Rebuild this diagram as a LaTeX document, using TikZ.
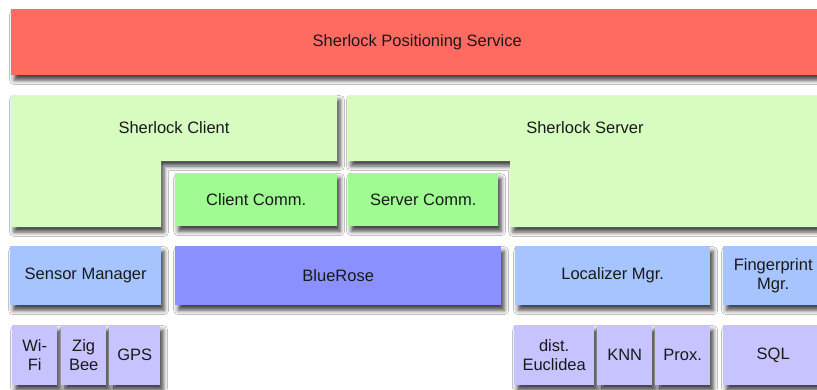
\documentclass[tikz,border=0pt]{standalone}
\usepackage{fontspec}
\setmainfont{Liberation Sans}
\usetikzlibrary{shadows.blur}
\definecolor{cred}{HTML}{FF6B61}
\definecolor{cpale}{HTML}{D6FCC0}
\definecolor{cgreen}{HTML}{A0FB92}
\definecolor{clblue}{HTML}{A6C5FE}
\definecolor{cblue}{HTML}{8A91FE}
\definecolor{clav}{HTML}{C7C3FE}
\begin{document}
\begin{tikzpicture}[x=1pt,y=-1pt,
  shad/.style={blur shadow={shadow xshift=3pt, shadow yshift=-5pt, shadow blur radius=4.5pt, shadow opacity=75}},
  lbl/.style={font=\fontsize{16.5}{19}\selectfont, align=center, text=black!90},
  box/.style={shad, lbl, draw=none, inner sep=0pt, anchor=north west, minimum height=#1},
  box/.default=59pt]
\useasboundingbox[fill=white] (0,0) rectangle (817,389);
% top service bar
\node[box=66pt, fill=cred, minimum width=812pt] (sps) at (11,9) {Sherlock Positioning Service};
% client and server L-shapes
\path[shad, fill=cpale] (11,95) -- (337,95) -- (337,161) -- (161,161) -- (161,227) -- (11,227) -- cycle;
\node[lbl] (client) at (174,128) {Sherlock Client};
\path[shad, fill=cpale] (348,95) -- (823,95) -- (823,227) -- (510,227) -- (510,161) -- (348,161) -- cycle;
\node[lbl] (server) at (585,128) {Sherlock Server};
% comm boxes
\node[box=53pt, fill=cgreen, minimum width=162pt] (ccomm) at (175,173) {Client Comm.};
\node[box=53pt, fill=cgreen, minimum width=150pt] (scomm) at (348,173) {Server Comm.};
% managers row
\node[box, fill=clblue, minimum width=151pt] (sensor) at (10,246) {Sensor Manager};
\node[box, fill=cblue, minimum width=326pt] (bluerose) at (175,246) {BlueRose};
\node[box, fill=clblue, minimum width=195pt] (localizer) at (515,246) {Localizer Mgr.};
\node[box, fill=clblue, minimum width=100pt] (finger) at (723,246) {Fingerprint\\Mgr.};
% bottom row
\node[box=60pt, fill=clav, minimum width=45pt] (wifi) at (12,325) {Wi-\\Fi};
\node[box=60pt, fill=clav, minimum width=45pt] (zigbee) at (61,325) {Zig\\Bee};
\node[box=60pt, fill=clav, minimum width=51pt] (gps) at (109,325) {GPS};
\node[box=60pt, fill=clav, minimum width=80pt] (eucl) at (514,325) {dist.\\Euclidea};
\node[box=60pt, fill=clav, minimum width=55pt] (knn) at (597,325) {KNN};
\node[box=60pt, fill=clav, minimum width=55pt] (prox) at (655,325) {Prox.};
\node[box=60pt, fill=clav, minimum width=100pt] (sql) at (723,325) {SQL};
\end{tikzpicture}
\end{document}
